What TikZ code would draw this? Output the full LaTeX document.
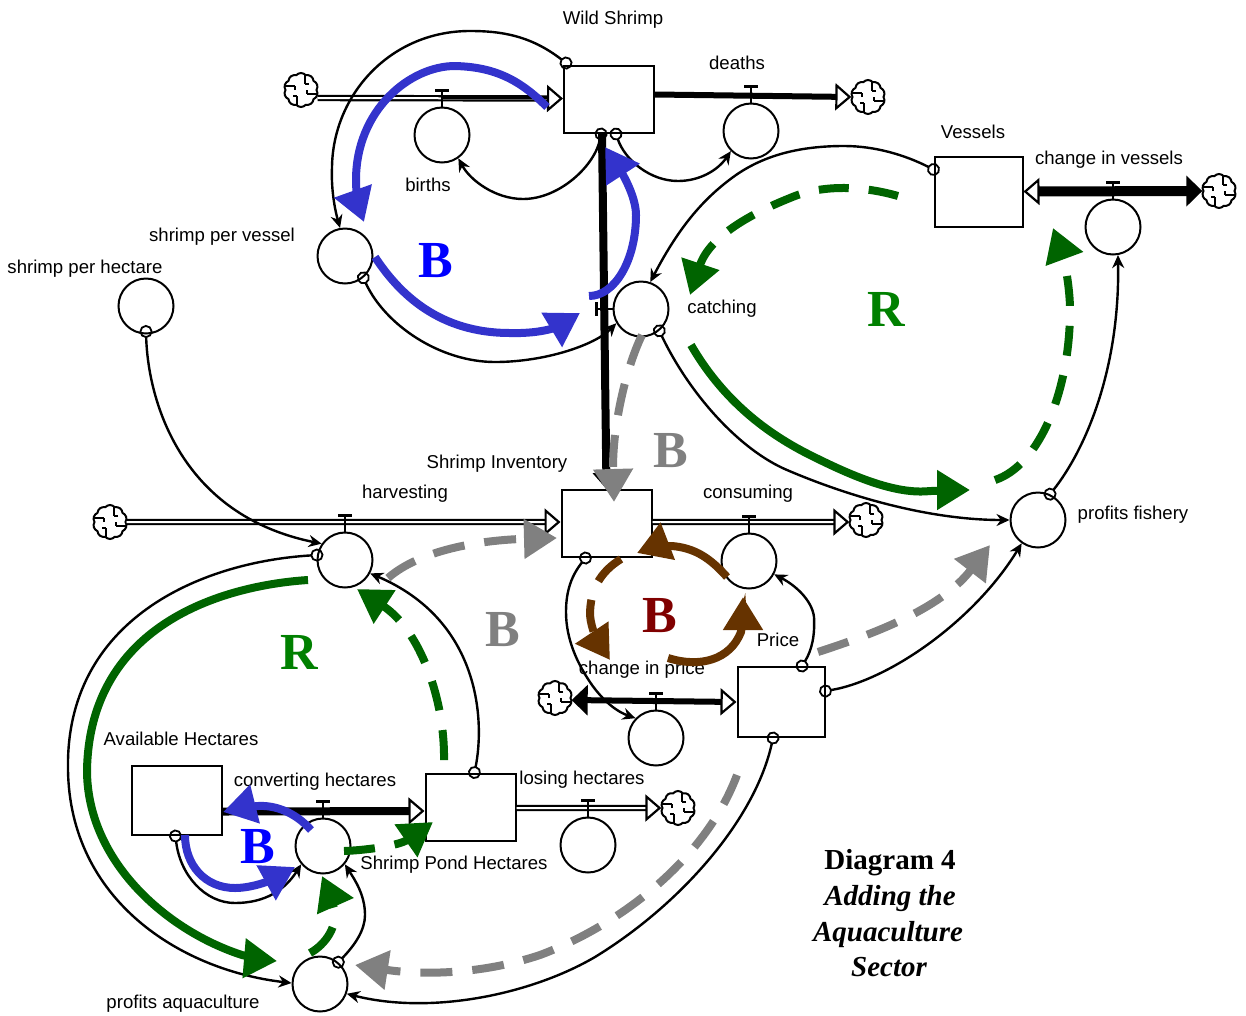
\documentclass[tikz,border=0pt]{standalone}
\usepackage{fontspec}
\setmainfont{Liberation Sans}
\newfontfamily\serifloop{Liberation Serif}
\definecolor{loopblue}{RGB}{51,51,204}
\definecolor{loopgreen}{RGB}{0,100,0}
\definecolor{loopgray}{RGB}{128,128,128}
\definecolor{loopbrown}{RGB}{102,51,0}
\definecolor{lettergreen}{RGB}{0,128,0}
\definecolor{letterred}{RGB}{128,0,0}
\usetikzlibrary{arrows.meta,shapes.symbols}
\tikzset{
  stockbox/.style={draw, line width=2pt, minimum width=90pt, minimum height=67pt, inner sep=0pt},
  converter/.style={draw, circle, line width=2pt, minimum size=55pt, inner sep=0pt},
  cloudend/.style={draw, cloud, cloud puffs=10, cloud puff arc=100, aspect=1, line width=2pt,
                   minimum width=34pt, minimum height=34pt, inner sep=0pt,
                   path picture={
                     \draw[line width=1.8pt] (path picture bounding box.center) ++(-16pt,4pt) -- ++(10pt,0) ++(0,-4pt) -- ++(0,4pt)
                       (path picture bounding box.center) ++(4pt,16pt) -- ++(0,-10pt) ++(4pt,0) -- ++(-4pt,0)
                       (path picture bounding box.center) ++(16pt,-4pt) -- ++(-10pt,0) ++(0,4pt) -- ++(0,-4pt)
                       (path picture bounding box.center) ++(-4pt,-16pt) -- ++(0,10pt) ++(-4pt,0) -- ++(4pt,0);}},
  lbl/.style={font=\fontsize{18.6}{20}\selectfont, inner sep=0pt},
  titlelbl/.style={font=\serifloop\fontsize{29}{32}\selectfont\bfseries, inner sep=0pt},
  titleit/.style={font=\serifloop\fontsize{29}{32}\selectfont\bfseries\itshape, inner sep=0pt},
  loopletter/.style={font=\serifloop\fontsize{52}{56}\selectfont\bfseries, text=#1, inner sep=0pt},
  pipe/.style={double, double distance=2pt, line width=2.2pt,
               -{Triangle[fill=white, length=16pt, width=27pt, line width=2.2pt]}},
  solidpipe/.style={line width=#1, -{Triangle[fill=white, length=16pt, width=27pt, line width=2.2pt]}},
  valvestem/.style={line width=2.2pt},
  link/.style={line width=2.4pt, shorten <=-6.5pt,
               {Circle[open, length=13pt, width=13pt, line width=1.8pt]}-{Stealth[length=13pt, width=12pt]}},
  looparrow/.style={draw=#1, line width=8pt, -{Triangle[length=33pt, width=38pt, color=#1]}},
  gapped/.style={dash pattern=on #1 off 20pt},
}
\newcommand{\valve}[1]{\draw[valvestem] (#1.north) -- ++(0,-16) ++(-7,0) -- ++(14,0);}

\begin{document}
\begin{tikzpicture}[x=1pt, y=-1pt]
\useasboundingbox (0,0) rectangle (1246,1015);

% Stocks
\node[stockbox] (wildshrimp) at (609,99.5) {};
\node[stockbox, minimum width=88pt, minimum height=70pt] (vessels) at (978.5,191.5) {};
\node[stockbox] (inventory) at (606.5,523.5) {};
\node[stockbox, minimum width=87pt, minimum height=70pt] (price) at (781,702) {};
\node[stockbox] (ponds) at (470.5,807) {};
\node[stockbox, minimum height=69pt] (hectares) at (176.5,800.5) {};

% Converters
\node[converter] (births) at (442,135) {};
\node[converter] (deaths) at (751,131) {};
\node[converter] (changevessels) at (1113,227) {};
\node[converter] (shrimpvessel) at (345,256) {};
\node[converter] (shrimphectare) at (146,306) {};
\node[converter] (catching) at (641,309) {};
\node[converter] (harvesting) at (345,560) {};
\node[converter] (consuming) at (749,561) {};
\node[converter] (profitsfish) at (1038,520) {};
\node[converter] (changeprice) at (656,738) {};
\node[converter] (converting) at (323,846) {};
\node[converter] (losing) at (588,845) {};
\node[converter] (profitsaqua) at (320,984) {};

% Clouds
\node[cloudend] (cloudbirths) at (301,90) {};
\node[cloudend] (clouddeaths) at (868,97) {};
\node[cloudend] (cloudvessels) at (1219,191) {};
\node[cloudend] (cloudharvest) at (110,522) {};
\node[cloudend] (cloudconsume) at (866,520) {};
\node[cloudend] (cloudprice) at (555,698) {};
\node[cloudend] (cloudlosing) at (678,808) {};

% Pipes
\draw[pipe] ([yshift=-8pt]cloudbirths.east) -- ([yshift=1pt]wildshrimp.west);
\draw[line width=3pt] (births.north |- wildshrimp.west) ++(0,-2) -- ++(105,0);
\draw[solidpipe=6pt] ([yshift=5pt]wildshrimp.east) -- (clouddeaths.west);
\draw[line width=10pt, {Triangle[fill=white, length=16pt, width=27pt, line width=2.2pt]}-{Triangle[length=16pt, width=30pt]}] (vessels.east) -- (cloudvessels.west);
\draw[pipe] (cloudharvest.east) -- ([yshift=1.5pt]inventory.west);
\draw[pipe] ([yshift=1.5pt]inventory.east) -- ([yshift=-2pt]cloudconsume.west);
\draw[line width=6pt, {Triangle[length=16pt, width=30pt]}-{Triangle[fill=white, length=16pt, width=27pt, line width=2.2pt]}] ([yshift=-2pt]cloudprice.east) -- (price.west);
\draw[solidpipe=8pt] ([yshift=-11pt]hectares.east) -- ([yshift=-4pt]ponds.west);
\draw[pipe] ([yshift=-1pt]ponds.east) -- (cloudlosing.west);
\draw[solidpipe=8pt] ([xshift=-7pt]wildshrimp.south) -- (inventory.north);

% Valves
\valve{births}
\valve{deaths}
\valve{changevessels}
\valve{harvesting}
\valve{consuming}
\valve{changeprice}
\valve{converting}
\valve{losing}
\draw[valvestem] (catching.west) -- ++(-16,0) ++(0,-7) -- ++(0,14);

% Connectors (top)
\draw[link] ([xshift=3pt, yshift=2pt]wildshrimp.north west) .. controls (530,35) and (500,31) .. (470,31) .. controls (390,31) and (333,95) .. (332,167) .. controls (331,190) and (335,210) .. (shrimpvessel.100);
\draw[link] ([xshift=-8pt]wildshrimp.south) .. controls (595,165) and (560,199) .. (523,199) .. controls (495,199) and (470,180) .. (births.-55);
\draw[link] ([xshift=7pt]wildshrimp.south) .. controls (625,160) and (650,181) .. (678,181) .. controls (700,181) and (718,170) .. (deaths.-135);
\draw[link] (shrimpvessel.-50) .. controls (385,325) and (440,362) .. (495,362) .. controls (545,362) and (595,345) .. (catching.-150);
\draw[link] ([yshift=3pt]shrimphectare.south) .. controls (148,400) and (180,515) .. (harvesting.145);
\draw[link] ([yshift=22pt]vessels.west) .. controls (905,155) and (875,146) .. (844,146) .. controls (800,146) and (765,155) .. (736,175) .. controls (705,197) and (680,225) .. (catching.71);
\draw[link] (catching.-50) .. controls (690,395) and (740,450) .. (787,470) .. controls (850,497) and (930,520) .. (profitsfish.180);
\draw[link] (profitsfish.65) .. controls (1085,450) and (1120,370) .. (changevessels.-80);

% Connectors (bottom)
\draw[link] ([xshift=-21pt]inventory.south) .. controls (572,575) and (566,590) .. (566,612) .. controls (566,640) and (578,665) .. (592,685) .. controls (605,703) and (618,712) .. (changeprice.136);
\draw[link] ([xshift=21pt]price.north) .. controls (812,650) and (815,635) .. (814,617) .. controls (812,600) and (795,585) .. (consuming.-28);
\draw[link] ([yshift=11pt]price.east) .. controls (890,680) and (975,620) .. (profitsfish.-125);
\draw[link] ([xshift=-8pt]price.south) .. controls (755,820) and (680,905) .. (595,957) .. controls (530,995) and (430,1015) .. (profitsaqua.-20);
\draw[link] ([xshift=4pt]ponds.north) .. controls (485,720) and (480,620) .. (harvesting.-28);
\draw[link] (harvesting.170) .. controls (200,562) and (65,620) .. (68,770) .. controls (70,900) and (180,970) .. (profitsaqua.178);
\draw[link] ([xshift=-1pt]hectares.south) .. controls (180,875) and (205,903) .. (235,903) .. controls (265,903) and (285,890) .. (converting.-140);
\draw[link] (profitsaqua.50) .. controls (355,945) and (365,930) .. (365,915) .. controls (365,895) and (355,880) .. (converting.-40);

% Labels
\node[lbl] (lblwild) at (613,20) {Wild Shrimp};
\node[lbl] (lbldeaths) at (737,63) {deaths};
\node[lbl] (lblvessels) at (973,132) {Vessels};
\node[lbl] (lblchangev) at (1109,160) {change in vessels};
\node[lbl] (lblbirths) at (428,185) {births};
\node[lbl] (lblpervessel) at (222,237) {shrimp per vessel};
\node[lbl] (lblperhectare) at (85,269) {shrimp per hectare};
\node[lbl] (lblcatching) at (722,309) {catching};
\node[lbl] (lblinventory) at (497,464) {Shrimp Inventory};
\node[lbl] (lblharvesting) at (405,494) {harvesting};
\node[lbl] (lblconsuming) at (748,494) {consuming};
\node[lbl] (lblprofitsf) at (1133,515) {profits fishery};
\node[lbl] (lblprice) at (778,640) {Price};
\node[lbl] (lblchangep) at (642,670) {change in price};
\node[lbl] (lblhectares) at (181,739) {Available Hectares};
\node[lbl] (lblconverting) at (315,782) {converting hectares};
\node[lbl] (lbllosing) at (582,780) {losing hectares};
\node[lbl] (lblponds) at (454,865) {Shrimp Pond Hectares};
\node[lbl] (lblprofitsa) at (183,1004) {profits aquaculture};

% Title
\node[titlelbl] (title1) at (890,863) {Diagram 4};
\node[titleit] (title2) at (890,899) {Adding the};
\node[titleit] (title3) at (888,935) {Aquaculture};
\node[titleit] (title4) at (889,967) {Sector};

% Blue loops
\coordinate (bl1a) at (547,107); \coordinate (bl1b) at (364,222);
\draw[looparrow=loopblue] (bl1a) .. controls (520,80) and (495,67) .. (455,66) .. controls (410,66) and (356,110) .. (356,180) .. controls (356,195) and (359,208) .. (bl1b);
\coordinate (bl2a) at (375,257); \coordinate (bl2b) at (580,313);
\draw[looparrow=loopblue] (bl2a) .. controls (400,295) and (440,333) .. (510,333) .. controls (545,334) and (560,325) .. (bl2b);
\coordinate (bl3a) at (589,296); \coordinate (bl3b) at (605,147);
\draw[looparrow=loopblue] (bl3a) .. controls (615,296) and (636,260) .. (636,215) .. controls (636,195) and (620,170) .. (bl3b);
\coordinate (bl4a) at (185,835); \coordinate (bl4b) at (295,867);
\draw[looparrow=loopblue] (bl4a) .. controls (185,865) and (205,888) .. (235,888) .. controls (255,888) and (275,878) .. (bl4b);
\coordinate (bl5a) at (311,830); \coordinate (bl5b) at (223,812);
\draw[looparrow=loopblue] (bl5a) .. controls (295,812) and (275,805) .. (258,806) .. controls (245,807) and (235,809) .. (bl5b);

% Green loops
\coordinate (gr1a) at (691,345); \coordinate (gr1b) at (970,490);
\draw[looparrow=loopgreen] (gr1a) .. controls (720,395) and (760,430) .. (810,455) .. controls (850,475) and (895,495) .. (930,491) .. controls (945,491) and (955,490) .. (gr1b);
\coordinate (gr2a) at (995,480); \coordinate (gr2b) at (1053,228);
\draw[looparrow=loopgreen, gapped=30pt] (gr2a) .. controls (1040,465) and (1070,390) .. (1070,310) .. controls (1070,285) and (1063,255) .. (gr2b);
\coordinate (gr3a) at (898,196); \coordinate (gr3b) at (690,295);
\draw[looparrow=loopgreen, gapped=30pt] (gr3a) .. controls (860,185) and (820,185) .. (790,198) .. controls (755,212) and (710,235) .. (gr3b);
\coordinate (gr4a) at (308,580); \coordinate (gr4b) at (277,961);
\draw[looparrow=loopgreen] (gr4a) .. controls (230,585) and (90,620) .. (87,770) .. controls (87,860) and (165,930) .. (242,955) .. controls (255,958) and (265,960) .. (gr4b);
\coordinate (gr5a) at (444,760); \coordinate (gr5b) at (357,589);
\draw[looparrow=loopgreen, gapped=30pt] (gr5a) .. controls (445,700) and (420,630) .. (gr5b);
\coordinate (gr6a) at (344,851); \coordinate (gr6b) at (433,822);
\draw[looparrow=loopgreen, gapped=31pt] (gr6a) .. controls (370,850) and (400,845) .. (gr6b);
\coordinate (gr7a) at (310,953); \coordinate (gr7b) at (322,876);
\draw[looparrow=loopgreen, gapped=35pt] (gr7a) .. controls (325,945) and (340,925) .. (333,905) .. controls (330,895) and (326,885) .. (gr7b);

% Gray loops
\coordinate (gy1a) at (642,335); \coordinate (gy1b) at (614,502);
\draw[looparrow=loopgray, gapped=32pt] (gy1a) .. controls (625,370) and (612,430) .. (gy1b);
\coordinate (gy2a) at (388,578); \coordinate (gy2b) at (557,538);
\draw[looparrow=loopgray, gapped=32pt] (gy2a) .. controls (420,550) and (480,540) .. (gy2b);
\coordinate (gy3a) at (818,652); \coordinate (gy3b) at (990,545);
\draw[looparrow=loopgray, gapped=32pt] (gy3a) .. controls (870,635) and (940,610) .. (gy3b);
\coordinate (gy4a) at (737,775); \coordinate (gy4b) at (355,965);
\draw[looparrow=loopgray, gapped=32pt] (gy4a) .. controls (705,860) and (620,925) .. (540,955) .. controls (480,975) and (420,975) .. (gy4b);

% Brown loops
\coordinate (br1a) at (727,577); \coordinate (br1b) at (637,553);
\draw[looparrow=loopbrown] (br1a) .. controls (710,558) and (695,548) .. (672,546) .. controls (660,546) and (650,548) .. (br1b);
\coordinate (br2a) at (621,559); \coordinate (br2b) at (610,660);
\draw[looparrow=loopbrown, gapped=32pt] (br2a) .. controls (600,572) and (590,590) .. (590,615) .. controls (591,630) and (600,645) .. (br2b);
\coordinate (br3a) at (668,658); \coordinate (br3b) at (743,597);
\draw[looparrow=loopbrown] (br3a) .. controls (700,668) and (730,660) .. (741,632) .. controls (743,620) and (743,610) .. (br3b);

% Loop letters
\node[loopletter=blue] (blue1) at (436,261) {B};
\node[loopletter=lettergreen] (green1) at (886,309) {R};
\node[loopletter=loopgray] (gray1) at (671,451) {B};
\node[loopletter=lettergreen] (green2) at (299,652) {R};
\node[loopletter=loopgray] (gray2) at (503,630) {B};
\node[loopletter=letterred] (red1) at (660,616) {B};
\node[loopletter=blue] (blue2) at (258,847) {B};

\end{tikzpicture}
\end{document}
